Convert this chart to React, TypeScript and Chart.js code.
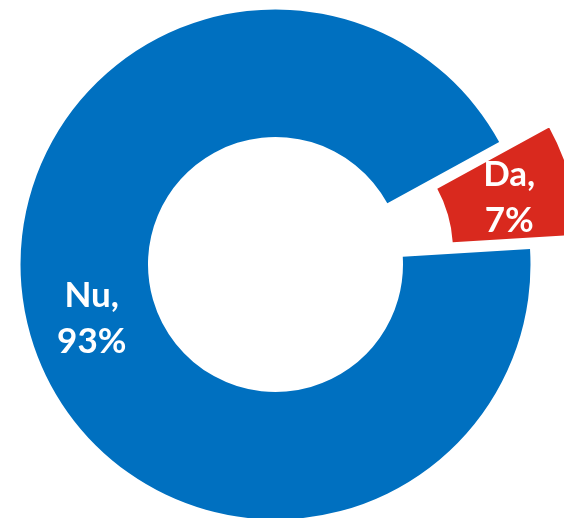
import React, { useEffect, useRef } from "react";
import { Chart, registerables } from "chart.js";

Chart.register(...registerables);

const categories: string[] = ["Da", "Nu"];
const values: number[] = [7, 93];
const colors: string[] = ["#D9291E", "#0070C0"];
const explode: number[] = [52, 0];

const explodePlugin = {
  id: "explodeSlices",
  afterUpdate(chart: any) {
    const meta = chart.getDatasetMeta(0);
    meta.data.forEach((arc: any, i: number) => {
      const d = explode[i] || 0;
      if (!d) return;
      const mid = (arc.startAngle + arc.endAngle) / 2;
      arc.x += Math.cos(mid) * d;
      arc.y += Math.sin(mid) * d;
    });
  },
};

const labelPlugin = {
  id: "sliceLabels",
  afterDatasetsDraw(chart: any) {
    const ctx = chart.ctx;
    const meta = chart.getDatasetMeta(0);
    const total = values.reduce((a, b) => a + b, 0);
    ctx.save();
    ctx.fillStyle = "#ffffff";
    ctx.textAlign = "center";
    ctx.textBaseline = "middle";
    ctx.font = "700 35px Lato";
    meta.data.forEach((arc: any, i: number) => {
      const mid = (arc.startAngle + arc.endAngle) / 2;
      const r = (arc.innerRadius + arc.outerRadius) / 2;
      const cx = arc.x + Math.cos(mid) * r;
      const cy = arc.y + Math.sin(mid) * r;
      const pct = Math.round((values[i] / total) * 100);
      ctx.fillText(categories[i] + ",", cx, cy - 22);
      ctx.fillText(pct + "%", cx, cy + 24);
    });
    ctx.restore();
  },
};

export default function App() {
  const ref = useRef<HTMLCanvasElement | null>(null);
  useEffect(() => {
    if (!ref.current) return;
    const chart = new Chart(ref.current, {
      type: "doughnut",
      data: {
        labels: categories,
        datasets: [
          {
            data: values,
            backgroundColor: colors,
            borderWidth: 0,
            hoverOffset: 0,
            clip: false,
          } as any,
        ],
      },
      options: {
        responsive: false,
        animation: false,
        rotation: 61.3,
        cutout: "50%",
        radius: 255,
        layout: { padding: { left: 0, right: 13, top: 11, bottom: 0 } },
        plugins: {
          legend: { display: false },
          tooltip: { enabled: false },
        },
        events: [],
      } as any,
      plugins: [explodePlugin, labelPlugin],
    });
    return () => chart.destroy();
  }, []);
  return (
    <div style={{ position: "fixed", left: 0, top: 0, width: 564, height: 518, background: "#fff" }}>
      <canvas ref={ref} width={564} height={518} style={{ display: "block" }} />
    </div>
  );
}
